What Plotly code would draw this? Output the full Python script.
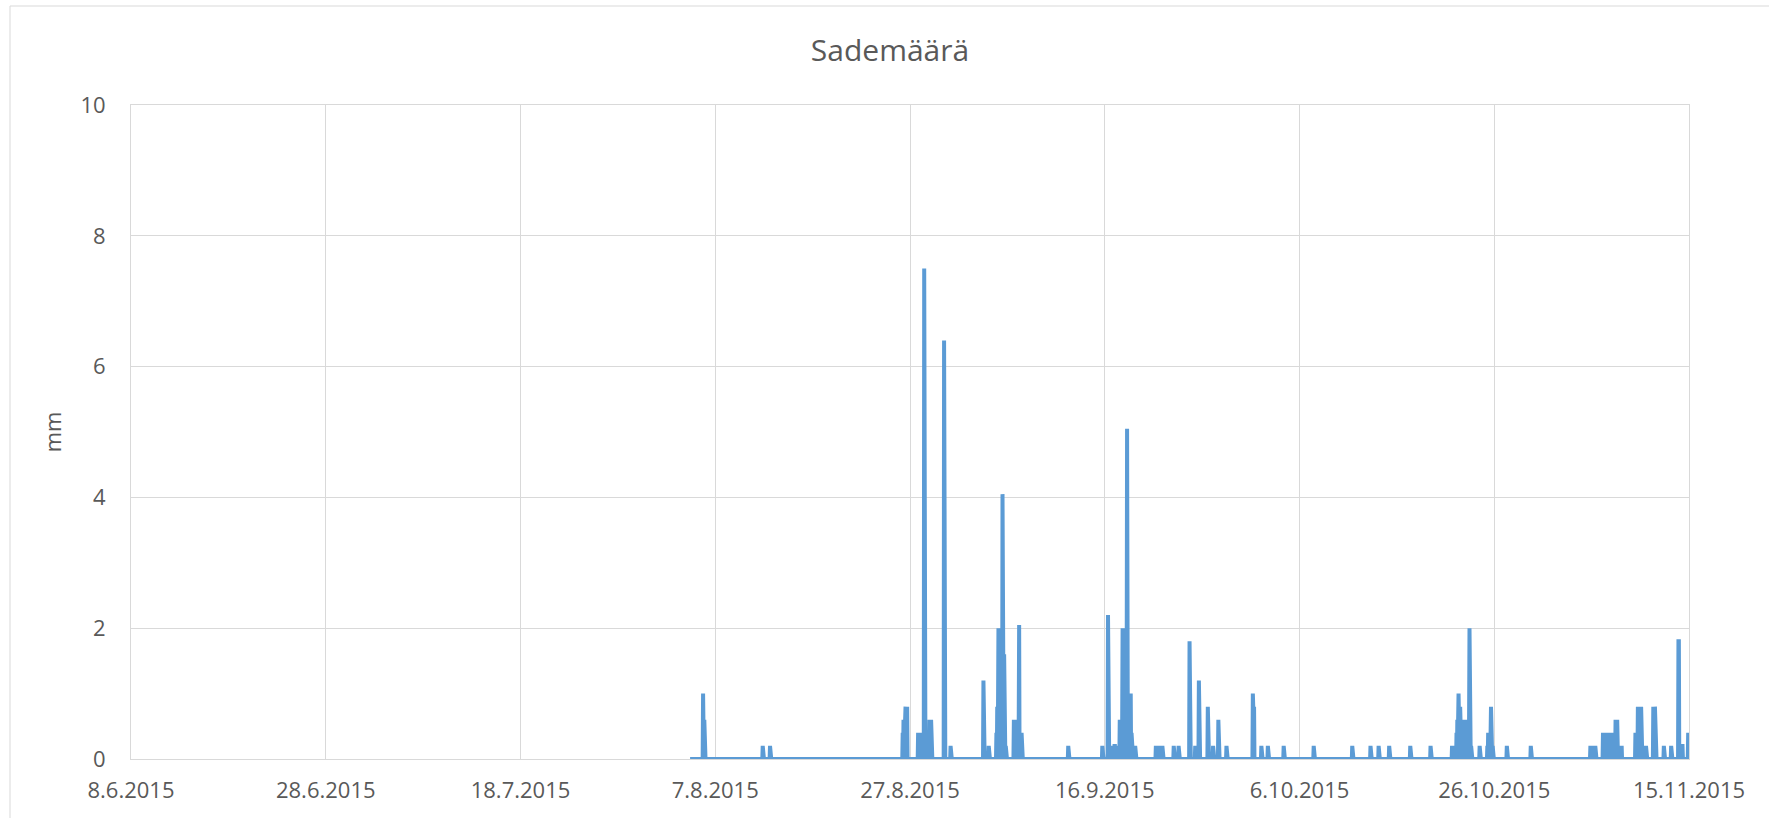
import pandas as pd
import plotly.graph_objects as go

# ---------------- data ----------------
series_start = "2015-08-04 10:00"
series_end = "2015-11-15 00:00"

rain_starts = [
    "2015-08-05 18:00", "2015-08-11 21:00", "2015-08-12 15:00",
    "2015-08-26 06:00", "2015-08-27 20:00", "2015-08-29 00:00",
    "2015-08-30 12:00", "2015-08-31 04:00", "2015-09-03 13:00",
    "2015-09-04 02:00", "2015-09-04 21:00", "2015-09-06 16:00",
    "2015-09-12 06:00", "2015-09-15 18:00", "2015-09-16 08:00",
    "2015-09-16 16:00", "2015-09-17 09:00", "2015-09-21 06:00",
    "2015-09-23 02:00", "2015-09-23 14:00", "2015-09-24 17:00",
    "2015-09-25 07:00", "2015-09-25 16:00", "2015-09-26 14:00",
    "2015-09-27 03:00", "2015-09-27 16:00", "2015-09-28 12:00",
    "2015-10-01 05:00", "2015-10-02 02:00", "2015-10-02 18:00",
    "2015-10-04 09:00", "2015-10-07 11:00", "2015-10-11 10:00",
    "2015-10-13 07:00", "2015-10-14 03:00", "2015-10-15 05:00",
    "2015-10-17 09:00", "2015-10-19 11:00", "2015-10-21 16:00",
    "2015-10-22 01:00", "2015-10-24 12:00", "2015-10-25 07:00",
    "2015-10-27 07:00", "2015-10-29 18:00", "2015-11-04 21:00",
    "2015-11-06 04:00", "2015-11-09 12:00", "2015-11-10 10:00",
    "2015-11-11 08:00", "2015-11-12 10:00", "2015-11-13 04:00",
    "2015-11-13 22:00", "2015-11-14 07:00", "2015-11-14 22:00",
]

rain_values = [
    [1.0, 0.6, 0, 0.6, 0, 0.6],
    [0.2],
    [0.2],
    [0.4, 0, 0.6, 0, 0.6, 0, 0.6, 0.8, 0, 0.8, 0, 0.8, 0],
    [0.4, 0, 0.4, 0, 0.4, 0, 0.4, 0, 0.4, 0, 0.4, 0, 0.4, 0, 0.4, 7.5, 0],
    [0.6, 0, 0.6, 0, 0.6, 0, 0.6],
    [6.4],
    [0.2],
    [1.2],
    [0.2],
    [0.4, 0, 0.8, 0, 0.8, 2.0, 0, 2.0, 0, 2.0, 0, 2.0, 0, 2.0, 0, 4.05,
     0, 1.6, 0, 1.6, 0, 1.6, 0, 0.2],
    [0.6, 0, 0.6, 0, 0.6, 0, 0.6, 0, 0.6, 0, 0.6, 0, 0.6, 2.05, 0, 0.4,
     0, 0.4, 0, 0.4, 0],
    [0.2],
    [0.2],
    [2.2],
    [0.2, 0, 0.2, 0, 0.2, 0, 0.2, 0, 0.2, 0.2],
    [0.2, 0, 0.2, 0, 0.6, 0, 0.6, 0, 0.6, 0, 0.6, 2.0, 0, 2.0, 0, 2.0, 0,
     2.0, 0, 2.0, 0, 1.0, 5.05, 1.0, 0, 1.0, 0, 1.0, 0, 1.0, 0, 1.0, 0, 0.4,
     0.2, 0, 0.2, 0, 0.2, 0, 0.2, 0, 0.2, 0],
    [0.2, 0, 0.2, 0, 0.2, 0, 0.2, 0, 0.2, 0, 0.2, 0, 0.2, 0, 0.2, 0, 0.2],
    [0.2],
    [0.2],
    [1.8],
    [0.2],
    [1.2],
    [0.8],
    [0.2],
    [0.6],
    [0.2],
    [1.0, 0.8, 0, 0.8],
    [0.2],
    [0.2],
    [0.2],
    [0.2],
    [0.2],
    [0.2],
    [0.2],
    [0.2],
    [0.2],
    [0.2],
    [0.2],
    [0.2, 0, 0.4, 0, 0.6, 0, 0.6, 1.0, 0, 0.8, 0, 0.8, 0, 0.6, 0, 0.6, 0,
     0.6, 0, 0.6, 0, 0.6, 0, 0.6, 0, 0.6, 0, 0.6, 0, 0.6, 0, 0.6, 0, 0.6,
     2.0, 0, 0.4, 0, 0.2],
    [0.2],
    [0.2, 0, 0.4, 0, 0.4, 0, 0.4, 0, 0.4, 0.8, 0, 0.8, 0, 0.2],
    [0.2],
    [0.2],
    [0.2, 0, 0.2, 0, 0.2, 0, 0.2, 0, 0.2, 0, 0.2, 0, 0.2, 0],
    [0.4, 0, 0.4, 0, 0.4, 0, 0.4, 0, 0.4, 0, 0.4, 0, 0.4, 0, 0.4, 0,
     0.2, 0, 0.2, 0, 0.4, 0, 0.4, 0, 0.4, 0, 0.4, 0, 0.4, 0.2, 0,
     0.6, 0, 0.6, 0, 0.6, 0.2, 0, 0.2, 0, 0.2, 0, 0.2, 0, 0.2, 0, 0.2],
    [0.4, 0, 0.4, 0, 0.4, 0, 0.8, 0, 0.8, 0, 0.8, 0, 0.8, 0, 0.8],
    [0.2, 0, 0.2, 0, 0.2],
    [0.8, 0, 0.8, 0, 0.8, 0.4, 0, 0.4],
    [0.2],
    [0.2],
    [1.8, 1.8, 0, 0.2],
    [0.2, 0.2],
    [0.4, 0, 0.4],
]

x_tick_dates = ["2015-06-08", "2015-06-28", "2015-07-18", "2015-08-07", "2015-08-27",
                "2015-09-16", "2015-10-06", "2015-10-26", "2015-11-15"]
x_tick_labels = ["8.6.2015", "28.6.2015", "18.7.2015", "7.8.2015", "27.8.2015",
                 "16.9.2015", "6.10.2015", "26.10.2015", "15.11.2015"]
y_tick_values = [0, 2, 4, 6, 8, 10]

title_text = "Sademäärä"
y_title = "mm"

# ---------------- build hourly series ----------------
idx = pd.date_range(series_start, series_end, freq="h")
rain = pd.Series(0.0, index=idx)
for start, vals in zip(rain_starts, rain_values):
    hours = pd.date_range(start, periods=len(vals), freq="h")
    rain.loc[hours] = vals

TXT = "#595959"
GRID = "#d9d9d9"
FONT = "Open Sans"

fig = go.Figure()
fig.add_trace(go.Scatter(
    x=rain.index, y=rain.values, mode="lines",
    line=dict(color="#5B9BD5", width=4),
    showlegend=False,
))

W, H = 1769, 818
L, R, T, B = 131, 80, 105, 59
pw, ph = W - L - R, H - T - B

fig.update_layout(
    width=W, height=H,
    margin=dict(l=L, r=R, t=T, b=B, pad=0),
    paper_bgcolor="white", plot_bgcolor="white",
    font=dict(family=FONT, color=TXT, size=22),
    title=dict(text=title_text, x=890 / W, xref="container", xanchor="center",
               y=1 - 50 / H, yref="container", yanchor="middle",
               font=dict(size=30, color=TXT, family=FONT)),
    xaxis=dict(
        range=[x_tick_dates[0], x_tick_dates[-1]],
        tickmode="array", tickvals=x_tick_dates, ticktext=x_tick_labels,
        showgrid=True, gridcolor=GRID, gridwidth=1,
        showline=True, linecolor=GRID, linewidth=1, mirror=True,
        ticks="outside", ticklen=12, tickcolor="rgba(0,0,0,0)",
        tickfont=dict(size=22, color=TXT, family=FONT),
        zeroline=False,
    ),
    yaxis=dict(
        range=[0, 10], tickmode="array", tickvals=y_tick_values,
        showgrid=True, gridcolor=GRID, gridwidth=1,
        showline=True, linecolor=GRID, linewidth=1, mirror=True,
        ticks="outside", ticklen=20, tickcolor="rgba(0,0,0,0)",
        tickfont=dict(size=22, color=TXT, family=FONT),
        zeroline=False,
        title=dict(text=y_title, standoff=12, font=dict(size=22, color=TXT, family=FONT)),
    ),
    shapes=[dict(
        type="rect", xref="paper", yref="paper",
        x0=(10 - L) / pw, x1=(1775 - L) / pw,
        y0=(H - B - 825) / ph, y1=(H - B - 6) / ph,
        line=dict(color=GRID, width=1), fillcolor="rgba(0,0,0,0)", layer="below",
    )],
)

fig.write_html("out.html", config={"displayModeBar": False},
               post_script="document.body.style.margin='0px';document.body.style.overflow='hidden';")
